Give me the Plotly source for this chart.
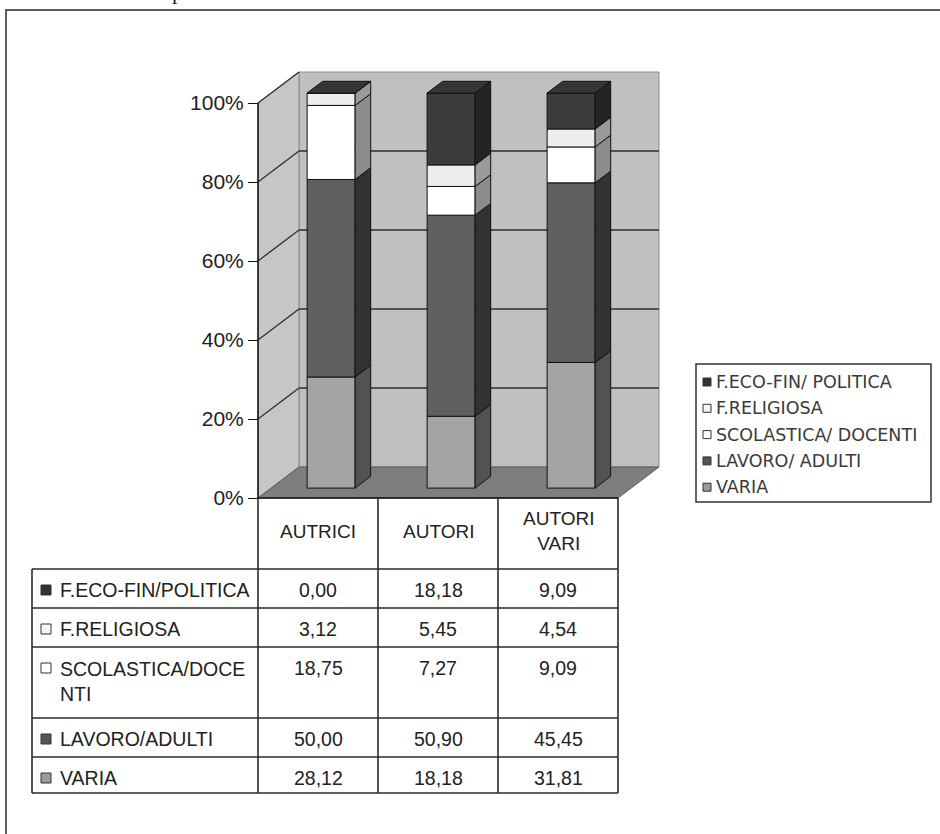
import plotly.graph_objects as go

# ---- data -------------------------------------------------------------
categories = ["AUTRICI", "AUTORI", "AUTORI<br>VARI"]
legend_names = ["VARIA", "LAVORO/ ADULTI", "SCOLASTICA/ DOCENTI",
                "F.RELIGIOSA", "F.ECO-FIN/ POLITICA"]
table_labels = ["VARIA", "LAVORO/ADULTI", "SCOLASTICA/DOCE<br>NTI",
                "F.RELIGIOSA", "F.ECO-FIN/POLITICA"]
varia = [28.12, 18.18, 31.81]
lavoro_adulti = [50.00, 50.90, 45.45]
scolastica_docenti = [18.75, 7.27, 9.09]
f_religiosa = [3.12, 5.45, 4.54]
f_eco_fin_politica = [0.00, 18.18, 9.09]
tick_values = [0, 20, 40, 60, 80, 100]
tick_labels = ["0%", "20%", "40%", "60%", "80%", "100%"]

series = [varia, lavoro_adulti, scolastica_docenti, f_religiosa, f_eco_fin_politica]

# ---- styling ----------------------------------------------------------
front_colors = ["#a4a4a4", "#5f5f5f", "#ffffff", "#eeeeee", "#3c3c3c"]
side_colors = ["#525252", "#323232", "#8c8c8c", "#9a9a9a", "#242424"]
top_color = "#363636"
marker_colors = ["#9a9a9a", "#555555", "#ffffff", "#f4f4f4", "#333333"]

W, H = 940, 834
X0_PX, CAT_PX = 258, 120.0       # left edge of front plane, px per category
Y0_PX, PCT_PX = 498, 3.95        # 0% baseline, px per percent
DX, DY = 41 / CAT_PX, 31 / PCT_PX  # depth of the 3-D box in data units
F_FRONT, F_BACK = 0.32, 0.70     # depth of bar front/back faces
BAR_W = 0.40

def px(x):
    return x / W

def py(y):
    return 1 - y / H

n_cat = len(categories)
totals = [sum(s[k] for s in series) for k in range(n_cat)]
pct = [[s[k] / totals[k] * 100 for k in range(n_cat)] for s in series]

fig = go.Figure()

# ---- walls, floor, gridlines (drawn under the bars) -------------------
shapes = []
xl, xr = -0.5, n_cat - 0.5

def path(pts):
    return "M " + " L ".join(f"{a},{b}" for a, b in pts) + " Z"

shapes.append(dict(type="path", xref="x", yref="y", layer="below",
                   path=path([(xl + DX, DY), (xr + DX, DY), (xr + DX, 100 + DY), (xl + DX, 100 + DY)]),
                   fillcolor="#c0c0c0", line=dict(color="#8a8a8a", width=1)))
shapes.append(dict(type="path", xref="x", yref="y", layer="below",
                   path=path([(xl, 0), (xl + DX, DY), (xl + DX, 100 + DY), (xl, 100)]),
                   fillcolor="#c6c6c6", line=dict(color="#8a8a8a", width=1)))
shapes.append(dict(type="path", xref="x", yref="y", layer="below",
                   path=path([(xl, 0), (xr, 0), (xr + DX, DY), (xl + DX, DY)]),
                   fillcolor="#7e7e7e", line=dict(color="#5a5a5a", width=1)))
for v in tick_values[1:]:
    shapes.append(dict(type="line", xref="x", yref="y", layer="below",
                       x0=xl, y0=v, x1=xl + DX, y1=v + DY,
                       line=dict(color="#2e2e2e", width=1.3)))
    if v < 100:
        shapes.append(dict(type="line", xref="x", yref="y", layer="below",
                           x0=xl + DX, y0=v + DY, x1=xr + DX, y1=v + DY,
                           line=dict(color="#2e2e2e", width=1.3)))
# value axis line and floor front edge
shapes.append(dict(type="line", xref="x", yref="y", x0=xl, y0=0, x1=xl, y1=100,
                   line=dict(color="#111111", width=1.5)))
shapes.append(dict(type="line", xref="x", yref="y", x0=xl, y0=0, x1=xr, y1=0,
                   line=dict(color="#111111", width=1.5)))

# ---- bars: front faces --------------------------------------------------
cum = [0.0] * n_cat
bases = []
for i, vals in enumerate(pct):
    base = [cum[k] + F_FRONT * DY for k in range(n_cat)]
    bases.append((list(cum), [cum[k] + vals[k] for k in range(n_cat)]))
    fig.add_trace(go.Bar(
        x=[k + F_FRONT * DX for k in range(n_cat)], y=vals, base=base,
        width=BAR_W, name=legend_names[i], showlegend=False,
        marker=dict(color=front_colors[i], line=dict(color="#111111", width=1)),
        hoverinfo="skip"))
    cum = [cum[k] + vals[k] for k in range(n_cat)]

# ---- bars: side faces ---------------------------------------------------
dd = F_BACK - F_FRONT
for i in range(len(series)):
    lo, hi = bases[i]
    xs, ys = [], []
    for k in range(n_cat):
        x_r = k + F_FRONT * DX + BAR_W / 2
        b = lo[k] + F_FRONT * DY
        t = hi[k] + F_FRONT * DY
        xs += [x_r, x_r + dd * DX, x_r + dd * DX, x_r, x_r, None]
        ys += [b, b + dd * DY, t + dd * DY, t, b, None]
    fig.add_trace(go.Scatter(x=xs, y=ys, mode="lines", fill="toself",
                             fillcolor=side_colors[i],
                             line=dict(color="#111111", width=1),
                             showlegend=False, hoverinfo="skip"))

# ---- bars: top faces ----------------------------------------------------
xs, ys = [], []
for k in range(n_cat):
    x_l = k + F_FRONT * DX - BAR_W / 2
    x_r = x_l + BAR_W
    t = cum[k] + F_FRONT * DY
    xs += [x_l, x_r, x_r + dd * DX, x_l + dd * DX, x_l, None]
    ys += [t, t, t + dd * DY, t + dd * DY, t, None]
fig.add_trace(go.Scatter(x=xs, y=ys, mode="lines", fill="toself",
                         fillcolor=top_color, line=dict(color="#111111", width=1),
                         showlegend=False, hoverinfo="skip"))

annotations = []
TXT = "#222222"
SANS = "Liberation Sans, Arial, sans-serif"

# ---- data table ---------------------------------------------------------
col_x = [32] + [X0_PX + j * CAT_PX for j in range(n_cat + 1)]
row_y = [498, 569, 608, 647, 718, 757, 793]
line_style = dict(color="#2a2a2a", width=1.6)
for j, x in enumerate(col_x):
    y_start = row_y[1] if j == 0 else row_y[0]
    shapes.append(dict(type="line", xref="paper", yref="paper",
                       x0=px(x), x1=px(x), y0=py(y_start), y1=py(row_y[-1]), line=line_style))
for r, y in enumerate(row_y[1:]):
    shapes.append(dict(type="line", xref="paper", yref="paper",
                       x0=px(col_x[0]), x1=px(col_x[-1]), y0=py(y), y1=py(y), line=line_style))

for k, cat in enumerate(categories):
    annotations.append(dict(xref="paper", yref="paper", x=px(X0_PX + (k + 0.5) * CAT_PX),
                            y=py(531), text=cat, showarrow=False, xanchor="center",
                            yanchor="middle", font=dict(family=SANS, size=19, color=TXT)))

# table rows run top-to-bottom in reverse stacking order
for r, i in enumerate(reversed(range(len(series)))):
    top = row_y[r + 1]
    label = table_labels[i]
    nlines = label.count("<br>") + 1
    annotations.append(dict(xref="paper", yref="paper", x=px(58),
                            y=py(top + 21 + (nlines - 1) * 13), text=label, showarrow=False,
                            xanchor="left", yanchor="middle", align="left",
                            font=dict(family=SANS, size=19.5, color=TXT)))
    shapes.append(dict(type="rect", xref="paper", yref="paper",
                       x0=px(41), x1=px(51), y0=py(top + 16), y1=py(top + 26),
                       fillcolor=marker_colors[i], line=dict(color="#333333", width=1)))
    for k in range(n_cat):
        annotations.append(dict(xref="paper", yref="paper",
                                x=px(X0_PX + (k + 0.5) * CAT_PX), y=py(top + 21),
                                text=f"{series[i][k]:.2f}".replace(".", ","),
                                showarrow=False, xanchor="center", yanchor="middle",
                                font=dict(family=SANS, size=19.5, color=TXT)))

# ---- legend box ---------------------------------------------------------
shapes.append(dict(type="rect", xref="paper", yref="paper",
                   x0=px(696), x1=px(931), y0=py(364), y1=py(502),
                   line=dict(color="#333333", width=1.5), fillcolor="rgba(0,0,0,0)"))
for r, i in enumerate(reversed(range(len(series)))):
    yc = 382 + r * 26.3
    shapes.append(dict(type="rect", xref="paper", yref="paper",
                       x0=px(703), x1=px(711), y0=py(yc - 4), y1=py(yc + 4),
                       fillcolor=marker_colors[i], line=dict(color="#333333", width=1)))
    annotations.append(dict(xref="paper", yref="paper", x=px(714), y=py(yc),
                            text=legend_names[i], showarrow=False, xanchor="left",
                            yanchor="middle",
                            font=dict(family="DejaVu Sans, Verdana, sans-serif",
                                      size=17.5, color="#3a3a3a")))

# ---- outer frame and clipped caption letter ---------------------------
shapes.append(dict(type="rect", xref="paper", yref="paper",
                   x0=px(6), x1=px(W + 20), y0=py(10), y1=py(H + 20),
                   line=dict(color="#2a2a2a", width=1.5), fillcolor="rgba(0,0,0,0)"))
annotations.append(dict(xref="paper", yref="paper", x=px(177), y=py(6), text="p",
                        showarrow=False, xanchor="center", yanchor="bottom",
                        font=dict(family="Liberation Serif, serif", size=22, color="#222222")))

fig.update_layout(
    width=W, height=H,
    margin=dict(l=0, r=0, t=0, b=0),
    paper_bgcolor="white", plot_bgcolor="white",
    barmode="overlay", showlegend=False,
    shapes=shapes, annotations=annotations,
    xaxis=dict(range=[-0.5 - X0_PX / CAT_PX, -0.5 + (W - X0_PX) / CAT_PX],
               visible=False, domain=[0, 1]),
    yaxis=dict(range=[-(H - Y0_PX) / PCT_PX, Y0_PX / PCT_PX], domain=[0, 1],
               anchor="free", position=X0_PX / W, side="left",
               tickmode="array", tickvals=tick_values, ticktext=tick_labels,
               ticks="outside", ticklen=10, tickwidth=1.3, tickcolor="#111111",
               showgrid=False, zeroline=False, showline=False,
               tickfont=dict(family=SANS, size=21, color=TXT)),
)

fig.write_html("out.html")
